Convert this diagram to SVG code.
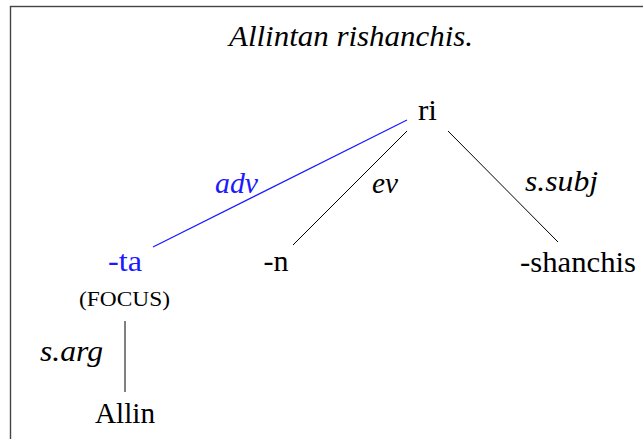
<svg xmlns="http://www.w3.org/2000/svg" width="643" height="439" viewBox="0 0 643 439">
  <style>
    text { font-family: 'Liberation Serif', 'DejaVu Serif', serif; font-size: 30px; fill: #000; text-anchor: middle; }
    .i { font-style: italic; }
    .blue { fill: #1a1aff; }
    .sc { font-size: 20px; }
    .edge { stroke: #000; stroke-width: 1; fill: none; }
    .edge.b { stroke: #1a1aff; stroke-width: 1.2; }
  </style>
  <rect x="10.5" y="6.5" width="700" height="460" fill="#fff" stroke="#444" stroke-width="1.4"/>
  <text class="i" x="351" y="46" textLength="244" lengthAdjust="spacingAndGlyphs">Allintan rishanchis.</text>
  <g id="connectors">
    <line class="edge b" x1="153" y1="247" x2="407" y2="120"/>
    <line class="edge" x1="293" y1="245" x2="407" y2="131"/>
    <line class="edge" x1="448" y1="131" x2="558" y2="242"/>
    <line class="edge" x1="125" y1="321" x2="125" y2="392"/>
    <text class="i blue" x="236.5" y="193" textLength="43" lengthAdjust="spacingAndGlyphs">adv</text>
    <text class="i" x="385" y="193" textLength="26" lengthAdjust="spacingAndGlyphs">ev</text>
    <text class="i" x="561.5" y="191" textLength="73" lengthAdjust="spacingAndGlyphs">s.subj</text>
    <text class="i" x="71.5" y="361" textLength="63" lengthAdjust="spacingAndGlyphs">s.arg</text>
  </g>
  <g id="node-ri"><text x="427.5" y="120" textLength="19" lengthAdjust="spacingAndGlyphs">ri</text></g>
  <g id="node-ta">
    <text class="blue" x="125" y="271" textLength="34" lengthAdjust="spacingAndGlyphs">-ta</text>
    <text class="sc" x="124.5" y="306" textLength="91" lengthAdjust="spacingAndGlyphs">(FOCUS)</text>
  </g>
  <g id="node-n"><text x="276" y="271" textLength="25" lengthAdjust="spacingAndGlyphs">-n</text></g>
  <g id="node-shanchis"><text x="578" y="272" textLength="116" lengthAdjust="spacingAndGlyphs">-shanchis</text></g>
  <g id="node-allin"><text x="125" y="423" textLength="60" lengthAdjust="spacingAndGlyphs">Allin</text></g>
</svg>
